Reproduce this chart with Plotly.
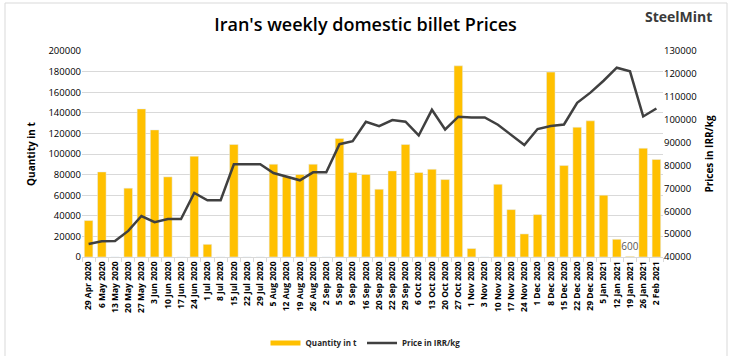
import plotly.graph_objects as go

weeks = ["29 Apr 2020", "6 May 2020", "13 May 2020", "20 May 2020", "27 May 2020", "3 Jun 2020",
         "10 Jun 2020", "17 Jun 2020", "24 Jun 2020", "1 Jul 2020", "8 Jul 2020", "15 Jul 2020",
         "22 Jul 2020", "29 Jul 2020", "5 Aug 2020", "12 Aug 2020", "19 Aug 2020", "26 Aug 2020",
         "2 Sep 2020", "5 Sep 2020", "9 Sep 2020", "16 Sep 2020", "20 Sep 2020", "22 Sep 2020",
         "29 Sep 2020", "6 Oct 2020", "13 Oct 2020", "20 Oct 2020", "27 Oct 2020", "1 Nov 2020",
         "3 Nov 2020", "10 Nov 2020", "17 Nov 2020", "24 Nov 2020", "1 Dec 2020", "8 Dec 2020",
         "15 Dec 2020", "22 Dec 2020", "29 Dec 2020", "5 Jan 2021", "12 Jan 2021", "19 Jan 2021",
         "26 Jan 2021", "2 Feb 2021"]

quantity_t = [35400, 82600, 0, 66800, 143800, 123400,
              77800, 0, 97900, 12300, 0, 109200,
              0, 0, 90100, 78000, 80100, 90100,
              0, 115100, 82000, 80100, 65800, 83600,
              109200, 82000, 85200, 75200, 185600, 8200,
              0, 70600, 46000, 22400, 41200, 179500,
              88800, 126000, 132200, 60000, 17200, 600,
              105600, 94700]

price_irr_kg = [45700, 46900, 47000, 51400, 57900, 55200,
                56600, 56600, 68000, 64800, 64800, 80500,
                80500, 80500, 76700, 75000, 73500, 77000,
                77000, 89300, 90600, 99100, 97200, 99800,
                99100, 93100, 104300, 95700, 101300, 101000,
                101000, 97800, 93200, 88900, 95900, 97200,
                97900, 107400, 111800, 117000, 122700, 121100,
                101400, 104900]

bar_labels = ["600" if q == 600 else "" for q in quantity_t]

left_ticks = list(range(0, 200001, 20000))
right_ticks = list(range(40000, 130001, 10000))

GOLD = "#FFC000"
DARK = "#404040"
FONT = "Open Sans"

fig = go.Figure()
fig.add_trace(go.Bar(
    x=weeks, y=quantity_t, name="Quantity in t", marker_color=GOLD,
    text=bar_labels, textposition="outside", cliponaxis=False, constraintext="none",
    textfont=dict(size=10, color="#595959", family=FONT),
    showlegend=False, yaxis="y"))
fig.add_trace(go.Scatter(
    x=weeks, y=price_irr_kg, name="Price in IRR/kg", mode="lines",
    line=dict(color=DARK, width=2.5), showlegend=False, yaxis="y2"))
# legend entries (line-style swatches as in the original)
fig.add_trace(go.Scatter(x=[None], y=[None], mode="lines", name="Quantity in t",
                         line=dict(color=GOLD, width=5), yaxis="y"))
fig.add_trace(go.Scatter(x=[None], y=[None], mode="lines", name="Price in IRR/kg",
                         line=dict(color=DARK, width=2.5), yaxis="y2"))

fig.update_layout(
    width=731, height=356,
    margin=dict(l=82, r=68, t=51, b=99, autoexpand=False),
    paper_bgcolor="white", plot_bgcolor="white",
    font=dict(family=FONT, color="#000000"),
    bargap=0.35,
    showlegend=True,
    legend=dict(orientation="h", x=0.5, xref="container", xanchor="center",
                y=1 - 343 / 356, yref="container", yanchor="middle",
                font=dict(size=8, color="#262626", family=FONT, weight="bold"),
                itemwidth=30, tracegroupgap=0, bgcolor="rgba(0,0,0,0)"),
    title=dict(text="Iran's weekly domestic billet Prices", x=0.5, xanchor="center",
               xref="container", y=1 - 25 / 356, yanchor="middle",
               font=dict(size=18, family=FONT, weight=600, color="#000000")),
    xaxis=dict(type="category", tickangle=-90, automargin=False,
               tickfont=dict(size=8.5, family=FONT, weight="bold"),
               showline=True, linecolor="#d9d9d9", ticks="outside", tickson="boundaries",
               ticklen=4, tickcolor="#d9d9d9", showgrid=False),
    yaxis=dict(range=[0, 200000], tickvals=left_ticks, ticktext=[str(v) for v in left_ticks],
               showgrid=True, gridcolor="#d9d9d9", automargin=False,
               tickfont=dict(size=9.5, family=FONT), zeroline=False,
               title=dict(text="Quantity in t", font=dict(size=10, family=FONT, weight="bold"),
                          standoff=10)),
    yaxis2=dict(range=[40000, 130000], tickvals=right_ticks, ticktext=[str(v) for v in right_ticks],
                overlaying="y", side="right", automargin=False,
                showgrid=False, zeroline=False, tickfont=dict(size=9.5, family=FONT),
                title=dict(text="Prices in IRR/kg", font=dict(size=10, family=FONT, weight="bold"),
                           standoff=10)),
    shapes=[dict(type="rect", xref="paper", yref="paper",
                 x0=(5 - 82) / 581, x1=(727 - 82) / 581,
                 y0=(257 - 362) / 206, y1=(257 - 3) / 206,
                 line=dict(color="#d9d9d9", width=1), layer="below")],
    annotations=[dict(text="SteelMint", xref="paper", yref="paper",
                      x=(714 - 82) / 581, xanchor="right", y=(257 - 16) / 206, yanchor="middle",
                      showarrow=False, font=dict(size=14, family=FONT, weight="bold", color="#3a3a3a"))],
)

fig.write_html("out.html", config={"displayModeBar": False},
               post_script="document.body.style.margin='0';document.body.style.overflow='hidden';")
